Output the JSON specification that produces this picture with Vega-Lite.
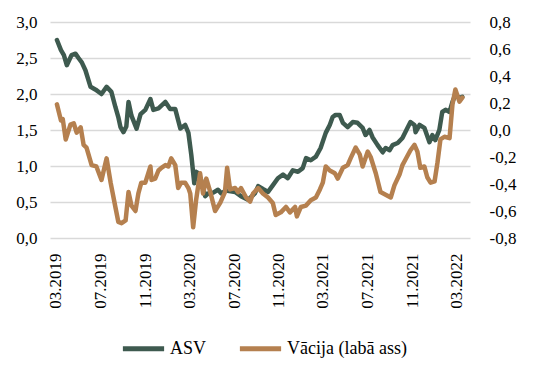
{
  "$schema": "https://vega.github.io/schema/vega-lite/v6.json",
  "width": 420,
  "height": 216,
  "autosize": {"type": "none"},
  "padding": {"left": 50, "top": 22, "right": 66, "bottom": 143},
  "background": "white",
  "data": {"values": [
    {"d":"2019-03-04","s":"ASV","v":2.75},
    {"d":"2019-03-15","s":"ASV","v":2.61},
    {"d":"2019-03-23","s":"ASV","v":2.54},
    {"d":"2019-03-31","s":"ASV","v":2.40},
    {"d":"2019-04-13","s":"ASV","v":2.54},
    {"d":"2019-04-24","s":"ASV","v":2.56},
    {"d":"2019-05-02","s":"ASV","v":2.50},
    {"d":"2019-05-11","s":"ASV","v":2.44},
    {"d":"2019-05-21","s":"ASV","v":2.33},
    {"d":"2019-06-04","s":"ASV","v":2.10},
    {"d":"2019-06-18","s":"ASV","v":2.06},
    {"d":"2019-07-04","s":"ASV","v":2.00},
    {"d":"2019-07-18","s":"ASV","v":2.10},
    {"d":"2019-07-31","s":"ASV","v":2.03},
    {"d":"2019-08-11","s":"ASV","v":1.82},
    {"d":"2019-08-19","s":"ASV","v":1.68},
    {"d":"2019-08-25","s":"ASV","v":1.54},
    {"d":"2019-09-02","s":"ASV","v":1.47},
    {"d":"2019-09-10","s":"ASV","v":1.55},
    {"d":"2019-09-16","s":"ASV","v":1.89},
    {"d":"2019-09-24","s":"ASV","v":1.70},
    {"d":"2019-10-08","s":"ASV","v":1.52},
    {"d":"2019-10-19","s":"ASV","v":1.72},
    {"d":"2019-11-01","s":"ASV","v":1.78},
    {"d":"2019-11-15","s":"ASV","v":1.93},
    {"d":"2019-11-23","s":"ASV","v":1.78},
    {"d":"2019-12-07","s":"ASV","v":1.80},
    {"d":"2019-12-26","s":"ASV","v":1.89},
    {"d":"2020-01-08","s":"ASV","v":1.79},
    {"d":"2020-01-22","s":"ASV","v":1.79},
    {"d":"2020-02-05","s":"ASV","v":1.52},
    {"d":"2020-02-18","s":"ASV","v":1.57},
    {"d":"2020-02-27","s":"ASV","v":1.46},
    {"d":"2020-03-06","s":"ASV","v":1.15},
    {"d":"2020-03-14","s":"ASV","v":0.76},
    {"d":"2020-03-19","s":"ASV","v":0.92},
    {"d":"2020-03-25","s":"ASV","v":0.90},
    {"d":"2020-04-02","s":"ASV","v":0.80},
    {"d":"2020-04-13","s":"ASV","v":0.58},
    {"d":"2020-04-21","s":"ASV","v":0.62},
    {"d":"2020-05-05","s":"ASV","v":0.63},
    {"d":"2020-05-18","s":"ASV","v":0.67},
    {"d":"2020-05-27","s":"ASV","v":0.62},
    {"d":"2020-06-09","s":"ASV","v":0.66},
    {"d":"2020-07-04","s":"ASV","v":0.64},
    {"d":"2020-07-20","s":"ASV","v":0.58},
    {"d":"2020-08-08","s":"ASV","v":0.53},
    {"d":"2020-08-27","s":"ASV","v":0.62},
    {"d":"2020-09-05","s":"ASV","v":0.72},
    {"d":"2020-09-18","s":"ASV","v":0.68},
    {"d":"2020-10-02","s":"ASV","v":0.64},
    {"d":"2020-10-15","s":"ASV","v":0.73},
    {"d":"2020-10-29","s":"ASV","v":0.83},
    {"d":"2020-11-12","s":"ASV","v":0.88},
    {"d":"2020-11-25","s":"ASV","v":0.83},
    {"d":"2020-12-09","s":"ASV","v":0.94},
    {"d":"2020-12-23","s":"ASV","v":0.92},
    {"d":"2021-01-05","s":"ASV","v":0.97},
    {"d":"2021-01-14","s":"ASV","v":1.11},
    {"d":"2021-01-27","s":"ASV","v":1.08},
    {"d":"2021-02-10","s":"ASV","v":1.13},
    {"d":"2021-02-23","s":"ASV","v":1.25},
    {"d":"2021-03-09","s":"ASV","v":1.46},
    {"d":"2021-03-20","s":"ASV","v":1.57},
    {"d":"2021-03-28","s":"ASV","v":1.68},
    {"d":"2021-04-05","s":"ASV","v":1.71},
    {"d":"2021-04-16","s":"ASV","v":1.71},
    {"d":"2021-04-25","s":"ASV","v":1.60},
    {"d":"2021-05-08","s":"ASV","v":1.54},
    {"d":"2021-05-22","s":"ASV","v":1.61},
    {"d":"2021-06-04","s":"ASV","v":1.60},
    {"d":"2021-06-18","s":"ASV","v":1.53},
    {"d":"2021-06-26","s":"ASV","v":1.43},
    {"d":"2021-07-07","s":"ASV","v":1.50},
    {"d":"2021-07-15","s":"ASV","v":1.40},
    {"d":"2021-07-29","s":"ASV","v":1.29},
    {"d":"2021-08-12","s":"ASV","v":1.19},
    {"d":"2021-08-20","s":"ASV","v":1.25},
    {"d":"2021-08-31","s":"ASV","v":1.22},
    {"d":"2021-09-08","s":"ASV","v":1.29},
    {"d":"2021-09-22","s":"ASV","v":1.32},
    {"d":"2021-10-05","s":"ASV","v":1.39},
    {"d":"2021-10-19","s":"ASV","v":1.53},
    {"d":"2021-10-27","s":"ASV","v":1.61},
    {"d":"2021-11-07","s":"ASV","v":1.57},
    {"d":"2021-11-10","s":"ASV","v":1.47},
    {"d":"2021-11-21","s":"ASV","v":1.57},
    {"d":"2021-12-04","s":"ASV","v":1.53},
    {"d":"2021-12-18","s":"ASV","v":1.33},
    {"d":"2021-12-26","s":"ASV","v":1.43},
    {"d":"2022-01-03","s":"ASV","v":1.36},
    {"d":"2022-01-14","s":"ASV","v":1.50},
    {"d":"2022-01-22","s":"ASV","v":1.75},
    {"d":"2022-01-31","s":"ASV","v":1.78},
    {"d":"2022-02-11","s":"ASV","v":1.75},
    {"d":"2022-02-19","s":"ASV","v":1.89},
    {"d":"2022-02-27","s":"ASV","v":1.99},
    {"d":"2022-03-10","s":"ASV","v":1.94},
    {"d":"2022-03-18","s":"ASV","v":1.96},
    {"d":"2019-03-04","s":"Vācija (labā ass)","v":0.19},
    {"d":"2019-03-15","s":"Vācija (labā ass)","v":0.07},
    {"d":"2019-03-20","s":"Vācija (labā ass)","v":0.08},
    {"d":"2019-03-28","s":"Vācija (labā ass)","v":-0.07},
    {"d":"2019-04-10","s":"Vācija (labā ass)","v":0.04},
    {"d":"2019-04-19","s":"Vācija (labā ass)","v":0.05},
    {"d":"2019-04-27","s":"Vācija (labā ass)","v":-0.02},
    {"d":"2019-05-08","s":"Vācija (labā ass)","v":0.02},
    {"d":"2019-05-16","s":"Vācija (labā ass)","v":-0.11},
    {"d":"2019-05-24","s":"Vācija (labā ass)","v":-0.13},
    {"d":"2019-06-07","s":"Vācija (labā ass)","v":-0.26},
    {"d":"2019-06-20","s":"Vācija (labā ass)","v":-0.27},
    {"d":"2019-07-04","s":"Vācija (labā ass)","v":-0.37},
    {"d":"2019-07-18","s":"Vācija (labā ass)","v":-0.21},
    {"d":"2019-07-29","s":"Vācija (labā ass)","v":-0.39},
    {"d":"2019-08-11","s":"Vācija (labā ass)","v":-0.57},
    {"d":"2019-08-19","s":"Vācija (labā ass)","v":-0.68},
    {"d":"2019-08-28","s":"Vācija (labā ass)","v":-0.69},
    {"d":"2019-09-08","s":"Vācija (labā ass)","v":-0.67},
    {"d":"2019-09-16","s":"Vācija (labā ass)","v":-0.46},
    {"d":"2019-09-24","s":"Vācija (labā ass)","v":-0.56},
    {"d":"2019-10-05","s":"Vācija (labā ass)","v":-0.60},
    {"d":"2019-10-13","s":"Vācija (labā ass)","v":-0.47},
    {"d":"2019-10-21","s":"Vācija (labā ass)","v":-0.39},
    {"d":"2019-11-01","s":"Vācija (labā ass)","v":-0.39},
    {"d":"2019-11-15","s":"Vācija (labā ass)","v":-0.27},
    {"d":"2019-11-18","s":"Vācija (labā ass)","v":-0.37},
    {"d":"2019-11-28","s":"Vācija (labā ass)","v":-0.36},
    {"d":"2019-12-07","s":"Vācija (labā ass)","v":-0.30},
    {"d":"2019-12-15","s":"Vācija (labā ass)","v":-0.28},
    {"d":"2019-12-26","s":"Vācija (labā ass)","v":-0.26},
    {"d":"2020-01-03","s":"Vācija (labā ass)","v":-0.27},
    {"d":"2020-01-11","s":"Vācija (labā ass)","v":-0.21},
    {"d":"2020-01-22","s":"Vācija (labā ass)","v":-0.26},
    {"d":"2020-01-30","s":"Vācija (labā ass)","v":-0.43},
    {"d":"2020-02-07","s":"Vācija (labā ass)","v":-0.39},
    {"d":"2020-02-18","s":"Vācija (labā ass)","v":-0.39},
    {"d":"2020-02-27","s":"Vācija (labā ass)","v":-0.43},
    {"d":"2020-03-03","s":"Vācija (labā ass)","v":-0.47},
    {"d":"2020-03-11","s":"Vācija (labā ass)","v":-0.72},
    {"d":"2020-03-19","s":"Vācija (labā ass)","v":-0.52},
    {"d":"2020-03-30","s":"Vācija (labā ass)","v":-0.32},
    {"d":"2020-04-07","s":"Vācija (labā ass)","v":-0.47},
    {"d":"2020-04-16","s":"Vācija (labā ass)","v":-0.36},
    {"d":"2020-04-27","s":"Vācija (labā ass)","v":-0.46},
    {"d":"2020-05-10","s":"Vācija (labā ass)","v":-0.60},
    {"d":"2020-05-24","s":"Vācija (labā ass)","v":-0.54},
    {"d":"2020-06-06","s":"Vācija (labā ass)","v":-0.46},
    {"d":"2020-06-12","s":"Vācija (labā ass)","v":-0.28},
    {"d":"2020-06-20","s":"Vācija (labā ass)","v":-0.44},
    {"d":"2020-07-04","s":"Vācija (labā ass)","v":-0.43},
    {"d":"2020-07-12","s":"Vācija (labā ass)","v":-0.46},
    {"d":"2020-07-20","s":"Vācija (labā ass)","v":-0.43},
    {"d":"2020-08-03","s":"Vācija (labā ass)","v":-0.50},
    {"d":"2020-08-14","s":"Vācija (labā ass)","v":-0.53},
    {"d":"2020-08-22","s":"Vācija (labā ass)","v":-0.47},
    {"d":"2020-09-05","s":"Vācija (labā ass)","v":-0.43},
    {"d":"2020-09-18","s":"Vācija (labā ass)","v":-0.47},
    {"d":"2020-10-02","s":"Vācija (labā ass)","v":-0.50},
    {"d":"2020-10-15","s":"Vācija (labā ass)","v":-0.54},
    {"d":"2020-10-23","s":"Vācija (labā ass)","v":-0.63},
    {"d":"2020-11-06","s":"Vācija (labā ass)","v":-0.61},
    {"d":"2020-11-20","s":"Vācija (labā ass)","v":-0.57},
    {"d":"2020-12-01","s":"Vācija (labā ass)","v":-0.61},
    {"d":"2020-12-15","s":"Vācija (labā ass)","v":-0.57},
    {"d":"2020-12-20","s":"Vācija (labā ass)","v":-0.64},
    {"d":"2020-12-31","s":"Vācija (labā ass)","v":-0.57},
    {"d":"2021-01-14","s":"Vācija (labā ass)","v":-0.56},
    {"d":"2021-01-27","s":"Vācija (labā ass)","v":-0.52},
    {"d":"2021-02-10","s":"Vācija (labā ass)","v":-0.50},
    {"d":"2021-02-21","s":"Vācija (labā ass)","v":-0.44},
    {"d":"2021-03-01","s":"Vācija (labā ass)","v":-0.39},
    {"d":"2021-03-09","s":"Vācija (labā ass)","v":-0.27},
    {"d":"2021-03-20","s":"Vācija (labā ass)","v":-0.30},
    {"d":"2021-04-03","s":"Vācija (labā ass)","v":-0.32},
    {"d":"2021-04-11","s":"Vācija (labā ass)","v":-0.36},
    {"d":"2021-04-25","s":"Vācija (labā ass)","v":-0.28},
    {"d":"2021-05-08","s":"Vācija (labā ass)","v":-0.26},
    {"d":"2021-05-16","s":"Vācija (labā ass)","v":-0.21},
    {"d":"2021-05-30","s":"Vācija (labā ass)","v":-0.13},
    {"d":"2021-06-10","s":"Vācija (labā ass)","v":-0.18},
    {"d":"2021-06-18","s":"Vācija (labā ass)","v":-0.27},
    {"d":"2021-07-02","s":"Vācija (labā ass)","v":-0.16},
    {"d":"2021-07-10","s":"Vācija (labā ass)","v":-0.20},
    {"d":"2021-07-24","s":"Vācija (labā ass)","v":-0.32},
    {"d":"2021-08-06","s":"Vācija (labā ass)","v":-0.46},
    {"d":"2021-08-20","s":"Vācija (labā ass)","v":-0.48},
    {"d":"2021-09-03","s":"Vācija (labā ass)","v":-0.50},
    {"d":"2021-09-13","s":"Vācija (labā ass)","v":-0.41},
    {"d":"2021-09-27","s":"Vācija (labā ass)","v":-0.33},
    {"d":"2021-10-05","s":"Vācija (labā ass)","v":-0.26},
    {"d":"2021-10-13","s":"Vācija (labā ass)","v":-0.22},
    {"d":"2021-10-27","s":"Vācija (labā ass)","v":-0.15},
    {"d":"2021-11-07","s":"Vācija (labā ass)","v":-0.11},
    {"d":"2021-11-15","s":"Vācija (labā ass)","v":-0.16},
    {"d":"2021-11-23","s":"Vācija (labā ass)","v":-0.28},
    {"d":"2021-12-04","s":"Vācija (labā ass)","v":-0.27},
    {"d":"2021-12-12","s":"Vācija (labā ass)","v":-0.35},
    {"d":"2021-12-21","s":"Vācija (labā ass)","v":-0.39},
    {"d":"2022-01-01","s":"Vācija (labā ass)","v":-0.38},
    {"d":"2022-01-09","s":"Vācija (labā ass)","v":-0.24},
    {"d":"2022-01-17","s":"Vācija (labā ass)","v":-0.07},
    {"d":"2022-01-28","s":"Vācija (labā ass)","v":-0.05},
    {"d":"2022-02-11","s":"Vācija (labā ass)","v":-0.06},
    {"d":"2022-02-19","s":"Vācija (labā ass)","v":0.19},
    {"d":"2022-02-27","s":"Vācija (labā ass)","v":0.30},
    {"d":"2022-03-10","s":"Vācija (labā ass)","v":0.21},
    {"d":"2022-03-18","s":"Vācija (labā ass)","v":0.24}
  ]},
  "encoding": {
    "x": {
      "field": "d", "type": "temporal", "title": null,
      "scale": {"domain": ["2019-02-13", "2022-04-08"]},
      "axis": {
        "values": ["2019-03-01","2019-07-01","2019-11-01","2020-03-01","2020-07-01","2020-11-01","2021-03-01","2021-07-01","2021-11-01","2022-03-01"],
        "format": "%m.%Y", "labelAngle": -90, "labelAlign": "right", "labelBaseline": "middle",
        "domain": false, "ticks": false, "grid": false, "labelPadding": 15,
        "labelFont": "Liberation Serif, Times New Roman, DejaVu Serif, serif", "labelFontSize": 17, "labelColor": "#000000", "labelOverlap": false, "labelFlush": false
      }
    },
    "color": {
      "field": "s", "type": "nominal", "title": null,
      "scale": {"domain": ["ASV", "Vācija (labā ass)"], "range": ["#3E5A4F", "#B5804F"]},
      "legend": {
        "orient": "none", "direction": "horizontal", "legendX": 70, "legendY": 303,
        "symbolType": "stroke", "symbolSize": 1700, "symbolStrokeWidth": 5,
        "labelFont": "Liberation Serif, Times New Roman, DejaVu Serif, serif", "labelFontSize": 18, "labelColor": "#000000",
        "labelOffset": 3, "columnPadding": 22, "labelLimit": 300
      }
    }
  },
  "layer": [
    {
      "transform": [{"filter": "datum.s === 'ASV'"}],
      "mark": {"type": "line", "strokeWidth": 4.5, "strokeJoin": "round", "strokeCap": "round"},
      "encoding": {
        "y": {
          "field": "v", "type": "quantitative", "title": null,
          "scale": {"domain": [0, 3], "nice": false, "zero": false},
          "axis": {
            "orient": "left", "values": [0, 0.5, 1, 1.5, 2, 2.5, 3],
            "labelExpr": "replace(format(datum.value, '.1f'), '.', ',')",
            "domain": false, "ticks": false, "grid": true, "gridColor": "#D9D9D9", "gridWidth": 1.5,
            "labelPadding": 13, "labelFont": "Liberation Serif, Times New Roman, DejaVu Serif, serif", "labelFontSize": 17, "labelColor": "#000000"
          }
        }
      }
    },
    {
      "transform": [{"filter": "datum.s !== 'ASV'"}],
      "mark": {"type": "line", "strokeWidth": 4.5, "strokeJoin": "round", "strokeCap": "round"},
      "encoding": {
        "y": {
          "field": "v", "type": "quantitative", "title": null,
          "scale": {"domain": [-0.8, 0.8], "nice": false, "zero": false},
          "axis": {
            "orient": "right", "values": [-0.8, -0.6, -0.4, -0.2, 0, 0.2, 0.4, 0.6, 0.8],
            "labelExpr": "replace(replace(format(datum.value, '.1f'), '.', ','), '\u2212', '-')",
            "domain": false, "ticks": false, "grid": false,
            "labelPadding": 19, "labelFont": "Liberation Serif, Times New Roman, DejaVu Serif, serif", "labelFontSize": 17, "labelColor": "#000000"
          }
        }
      }
    }
  ],
  "resolve": {"scale": {"y": "independent"}},
  "config": {"view": {"stroke": null}}
}
